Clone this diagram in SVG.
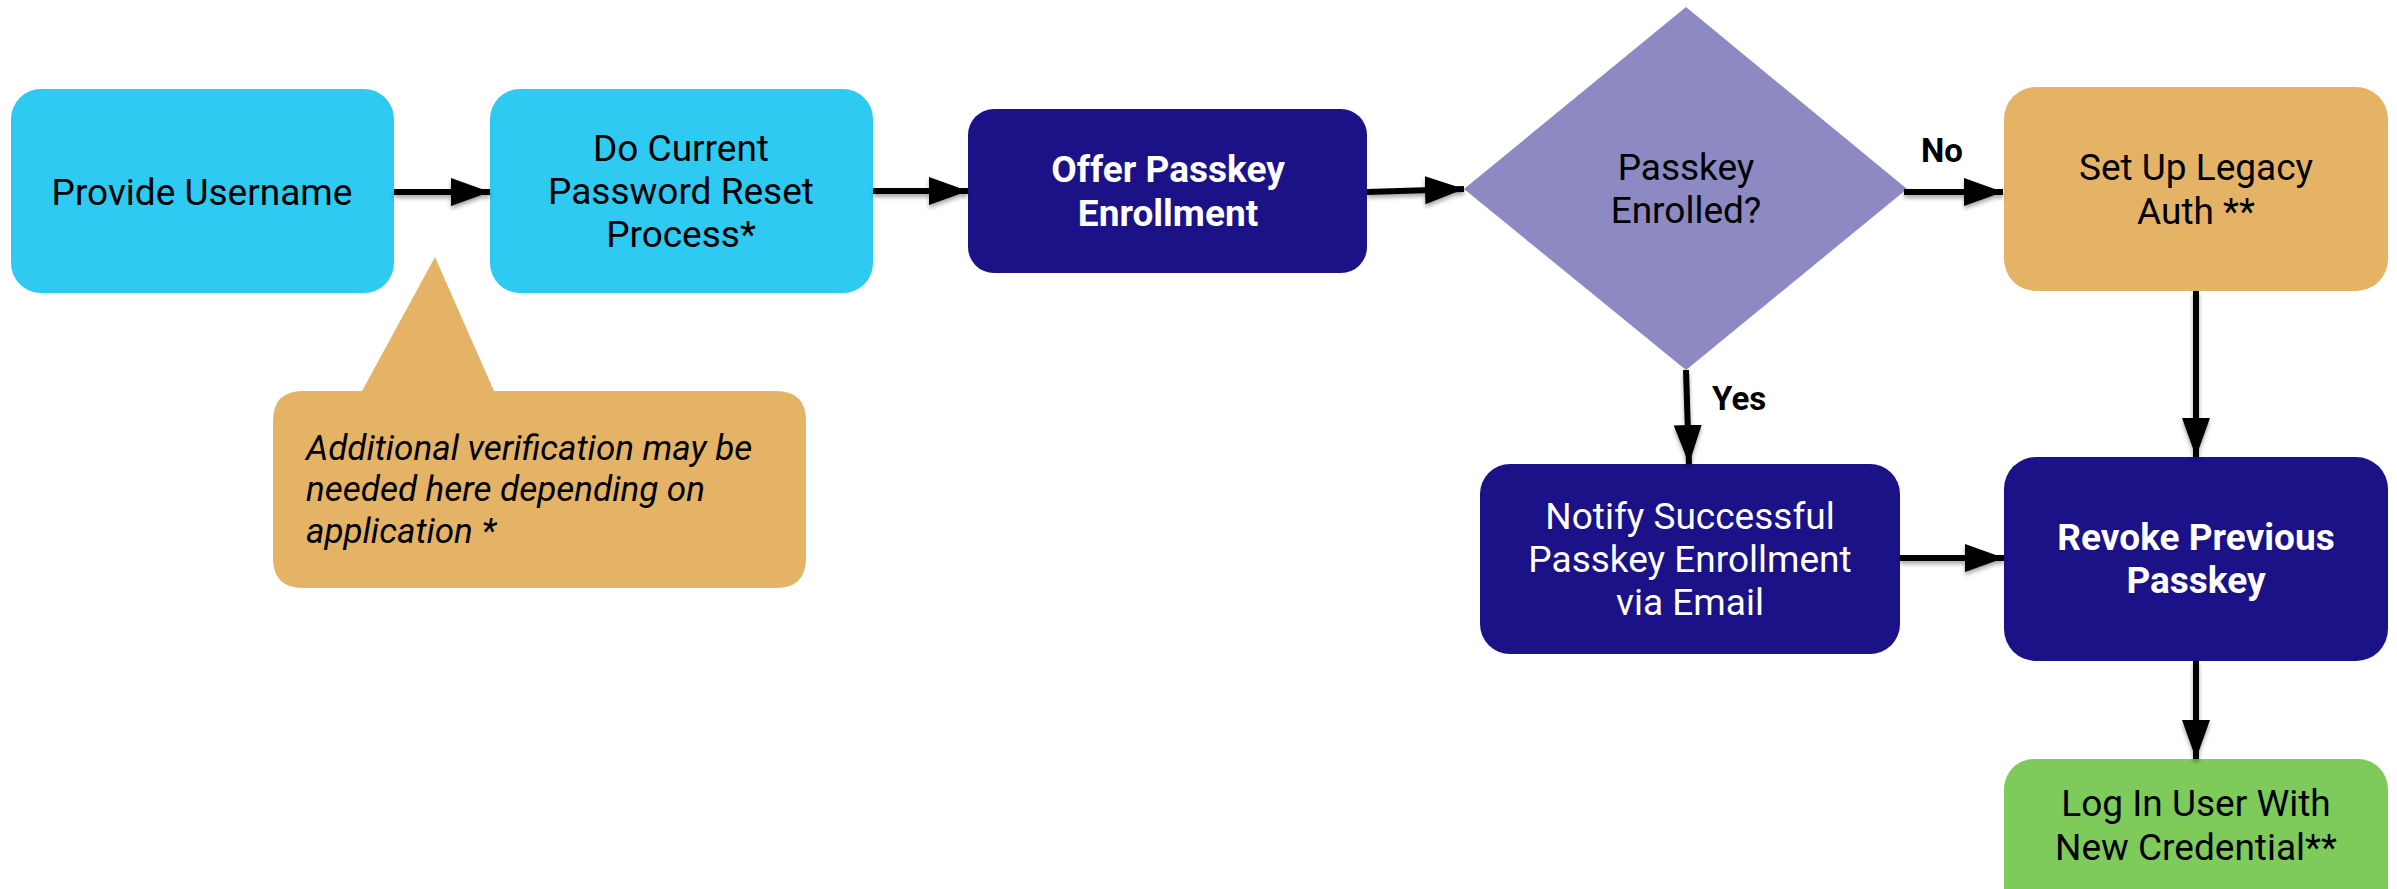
<svg xmlns="http://www.w3.org/2000/svg" width="2397" height="889" viewBox="0 0 2397 889">
<defs>
<style>
.t{font-family:Roboto,"Liberation Sans",sans-serif;font-size:37px;text-anchor:middle;fill:#000}
.w{fill:#fff}
.b{font-weight:bold}
.i{font-family:Roboto,"Liberation Sans",sans-serif;font-size:35px;font-style:italic;fill:#000}
.lbl{font-family:Roboto,"Liberation Sans",sans-serif;font-size:33px;font-weight:bold;fill:#000}
.cyan{fill:#2ecaf1}
.navy{fill:#1b1288}
.orange{fill:#e4b365}
.green{fill:#7ecb5b}
.conn line{stroke:#000;stroke-width:6;marker-end:url(#ah)}
</style>
<marker id="ah" markerUnits="userSpaceOnUse" markerWidth="40" markerHeight="30" refX="39" refY="14" orient="auto">
<path d="M0,0 L39,14 L0,28 z" fill="#000"/>
</marker>
<filter id="sh" x="-10%" y="-50%" width="120%" height="200%">
<feDropShadow dx="0" dy="3" stdDeviation="2" flood-color="#000" flood-opacity="0.35"/>
</filter>
</defs>
<rect width="2397" height="889" fill="#fff"/>

<g id="note">
<path class="orange" d="M303,391 L362,391 L435,257 L494,391 L776,391 Q806,391 806,421 L806,558 Q806,588 776,588 L303,588 Q273,588 273,558 L273,421 Q273,391 303,391 z"/>
<text class="i" x="306" y="460">Additional verification may be</text>
<text class="i" x="306" y="501">needed here depending on</text>
<text class="i" x="306" y="543">application *</text>
</g>

<g id="provide-username">
<rect class="cyan" x="11" y="89" width="383" height="204" rx="30"/>
<text class="t" x="202" y="205">Provide Username</text>
</g>

<g id="password-reset">
<rect class="cyan" x="490" y="89" width="383" height="204" rx="30"/>
<text class="t" x="681" y="161">Do Current</text>
<text class="t" x="681" y="204">Password Reset</text>
<text class="t" x="681" y="247">Process*</text>
</g>

<g id="offer-passkey">
<rect class="navy" x="968" y="109" width="399" height="164" rx="26"/>
<text class="t w b" x="1168" y="182">Offer Passkey</text>
<text class="t w b" x="1168" y="226">Enrollment</text>
</g>

<g id="passkey-enrolled">
<polygon points="1686,7 1907,189 1686,370 1464,189" fill="#8c89c3"/>
<text class="t" x="1686" y="180">Passkey</text>
<text class="t" x="1686" y="223">Enrolled?</text>
</g>

<g id="legacy-auth">
<rect class="orange" x="2004" y="87" width="384" height="204" rx="32"/>
<text class="t" x="2196" y="180">Set Up Legacy</text>
<text class="t" x="2196" y="224">Auth **</text>
</g>

<g id="notify">
<rect class="navy" x="1480" y="464" width="420" height="190" rx="30"/>
<text class="t w" x="1690" y="529">Notify Successful</text>
<text class="t w" x="1690" y="572">Passkey Enrollment</text>
<text class="t w" x="1690" y="615">via Email</text>
</g>

<g id="revoke">
<rect class="navy" x="2004" y="457" width="384" height="204" rx="32"/>
<text class="t w b" x="2196" y="550">Revoke Previous</text>
<text class="t w b" x="2196" y="593">Passkey</text>
</g>

<g id="login">
<rect class="green" x="2004" y="759" width="384" height="170" rx="30"/>
<text class="t" x="2196" y="816">Log In User With</text>
<text class="t" x="2196" y="860">New Credential**</text>
</g>

<g id="connectors" class="conn" filter="url(#sh)">
<line x1="394" y1="192" x2="490" y2="192"/>
<line x1="873" y1="191" x2="968" y2="191"/>
<line x1="1367" y1="192" x2="1464" y2="189"/>
<line x1="1904" y1="192" x2="2003" y2="192"/>
<line x1="2196" y1="291" x2="2196" y2="457"/>
<line x1="1686" y1="370" x2="1689" y2="464"/>
<line x1="1900" y1="558" x2="2004" y2="558"/>
<line x1="2196" y1="661" x2="2196" y2="759"/>
</g>

<g id="labels">
<text class="lbl" x="1921" y="162">No</text>
<text class="lbl" x="1712" y="410">Yes</text>
</g>
</svg>
